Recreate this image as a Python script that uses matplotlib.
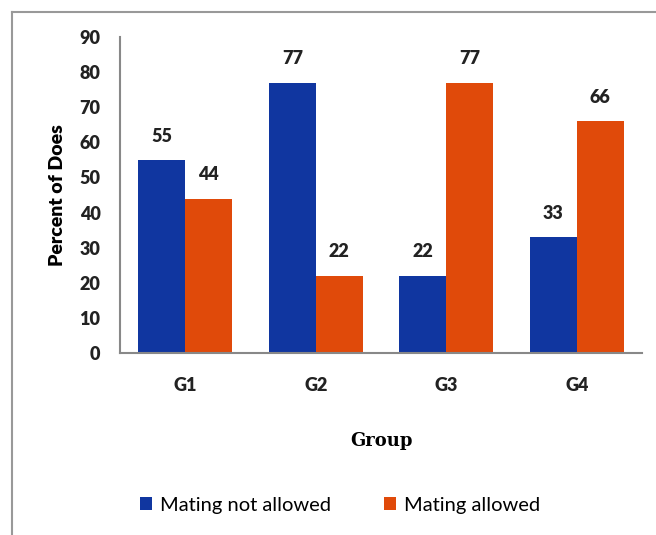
import matplotlib.pyplot as plt
import numpy as np

groups = ["G1", "G2", "G3", "G4"]
not_allowed = [55, 77, 22, 33]
allowed = [44, 22, 77, 66]
series_names = ["Mating not allowed", "Mating allowed"]

blue = "#1036a0"
orange = "#e04a0a"
sans = ["Lato", "DejaVu Sans"]

fig = plt.figure(figsize=(6.56, 5.35), dpi=100)
ax = fig.add_axes([120 / 656, 1 - 353 / 535, 522 / 656, 316 / 535])

x = np.arange(len(groups))
w = 0.36
b1 = ax.bar(x - w / 2, not_allowed, w, color=blue, label=series_names[0])
b2 = ax.bar(x + w / 2, allowed, w, color=orange, label=series_names[1])

for bars in (b1, b2):
    ax.bar_label(bars, padding=11, fontsize=13, fontweight="heavy",
                 family=sans, color="#222222")

ax.set_xlim(-0.5, len(groups) - 0.5)
ax.set_ylim(0, 90)
ax.set_yticks(range(0, 91, 10))
ax.set_xticks(x)
ax.set_xticklabels(groups)
ax.tick_params(length=0)
ax.tick_params(axis="y", pad=14)
ax.tick_params(axis="x", pad=17)
for lab in ax.get_xticklabels() + ax.get_yticklabels():
    lab.set_family(sans)
    lab.set_fontweight("heavy")
    lab.set_fontsize(13)
    lab.set_color("#222222")

for s in ["top", "right"]:
    ax.spines[s].set_visible(False)
for s in ["left", "bottom"]:
    ax.spines[s].set_color("#888888")
    ax.spines[s].set_linewidth(1.5)

ax.set_ylabel("Percent of Does", family=sans, fontweight="heavy",
              fontsize=14, labelpad=10)
ax.set_xlabel("Group", family=["DejaVu Serif"], fontweight="bold",
              fontsize=13, labelpad=28)

fig.legend(handles=[b1, b2], labels=series_names, loc="center",
           bbox_to_anchor=(340 / 656, 1 - 505 / 535), ncol=2, frameon=False,
           prop={"family": sans, "size": 14.5}, handlelength=0.6,
           handleheight=0.6, columnspacing=2.6, handletextpad=0.4)

# outer chart frame (left and top edges visible)
fig.add_artist(plt.Line2D([12 / 656, 12 / 656], [0, 1 - 12 / 535],
                          color="#999999", lw=1.5, transform=fig.transFigure))
fig.add_artist(plt.Line2D([12 / 656, 1], [1 - 12 / 535, 1 - 12 / 535],
                          color="#999999", lw=1.5, transform=fig.transFigure))

fig.savefig("out.png", dpi=100)
